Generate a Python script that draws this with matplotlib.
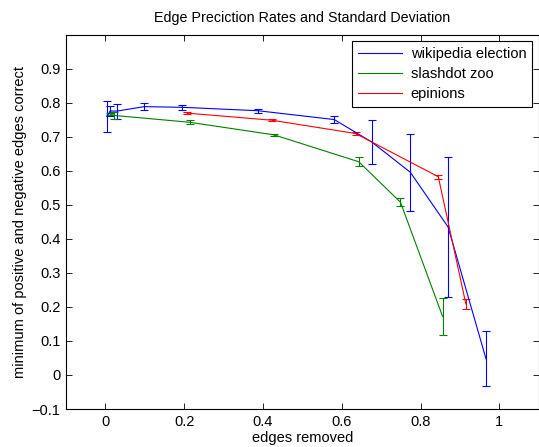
import numpy as np
import matplotlib
matplotlib.use("Agg")
import matplotlib.pyplot as plt
from matplotlib.lines import Line2D

plt.rcParams['font.family'] = ['Liberation Sans', 'DejaVu Sans']
plt.rcParams['font.size'] = 10.5

# wikipedia election
wiki_x = [0.004, 0.012, 0.030, 0.098, 0.195, 0.387, 0.581, 0.676, 0.774, 0.870, 0.966]
wiki_y = [0.760, 0.776, 0.776, 0.789, 0.787, 0.777, 0.751, 0.685, 0.596, 0.435, 0.048]
wiki_e = [0.045, 0.014, 0.022, 0.011, 0.008, 0.006, 0.009, 0.066, 0.113, 0.207, 0.080]

# slashdot zoo
slash_x = [0.012, 0.023, 0.214, 0.428, 0.643, 0.749, 0.856]
slash_y = [0.768, 0.763, 0.743, 0.706, 0.627, 0.508, 0.172]
slash_e = [0.003, 0.010, 0.006, 0.004, 0.013, 0.012, 0.053]

# epinions
epi_x = [0.207, 0.423, 0.635, 0.845, 0.915]
epi_y = [0.770, 0.749, 0.710, 0.583, 0.209]
epi_e = [0.003, 0.003, 0.003, 0.006, 0.015]

names = ['wikipedia election', 'slashdot zoo', 'epinions']
colors = [(0, 0, 1), (0, 0.5, 0), (1, 0, 0)]

fig = plt.figure(figsize=(5.39, 4.47), dpi=100)
ax = fig.add_axes([0.1225, 0.085, 0.877, 0.837])

kw = dict(lw=0.8, elinewidth=0.8, capsize=3, capthick=0.8)
ax.errorbar(wiki_x, wiki_y, yerr=wiki_e, color=colors[0], **kw)
ax.errorbar(slash_x, slash_y, yerr=slash_e, color=colors[1], **kw)
ax.errorbar(epi_x, epi_y, yerr=epi_e, color=colors[2], **kw)

ax.set_xlim(-0.1, 1.1)
ax.set_ylim(-0.1, 1.0)
ax.set_xticks([0, 0.2, 0.4, 0.6, 0.8, 1])
ax.set_xticklabels(['0', '0.2', '0.4', '0.6', '0.8', '1'])
yt = np.round(np.arange(-0.1, 0.95, 0.1), 1)
ax.set_yticks(yt)
ax.set_yticklabels(['\u22120.1' if v < 0 else ('0' if v == 0 else f'{v:g}') for v in yt])
ax.tick_params(direction='in', top=True, right=True, length=4, width=0.6, pad=4)
for s in ax.spines.values():
    s.set_linewidth(0.8)

ax.set_title('Edge Preciction Rates and Standard Deviation', fontsize=10.3, pad=9)
ax.set_xlabel('edges removed', labelpad=2)
ax.set_ylabel('minimum of positive and negative edges correct', labelpad=3)

handles = [Line2D([], [], color=c, lw=0.8) for c in colors]
leg = ax.legend(handles, names, loc='upper right', fancybox=False, framealpha=1,
                edgecolor='black', borderaxespad=0.45, handlelength=3.0,
                handletextpad=0.6, labelspacing=0.4, borderpad=0.4)
leg.get_frame().set_linewidth(0.8)

fig.savefig('out.png', dpi=100)
